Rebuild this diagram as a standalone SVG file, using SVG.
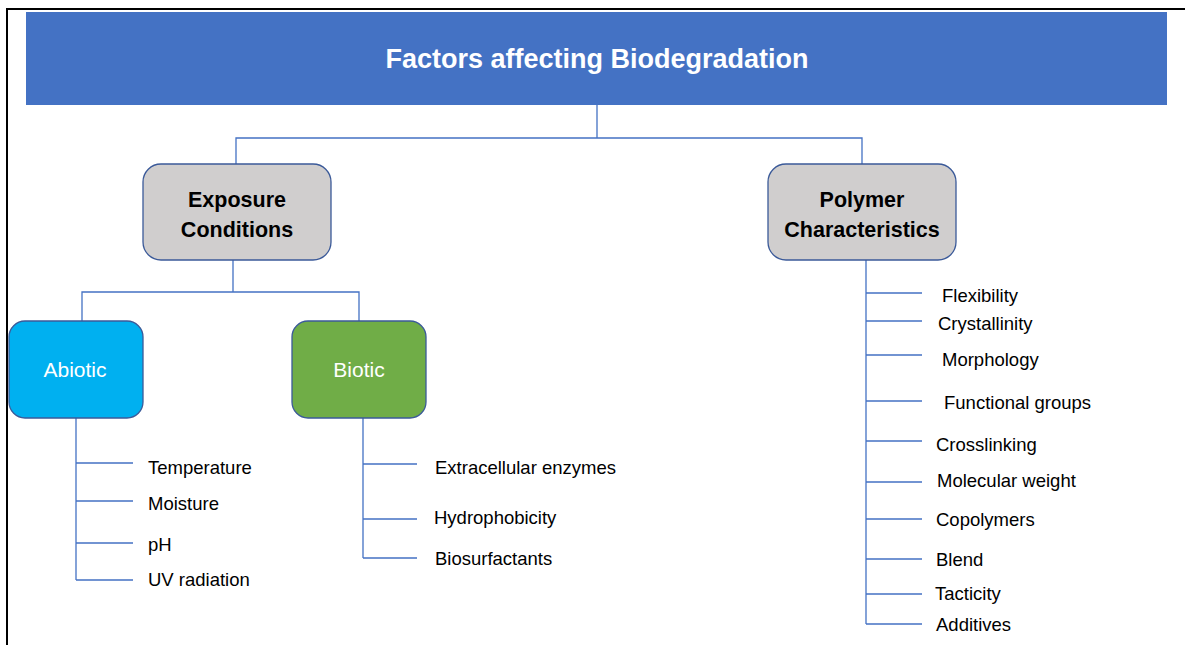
<svg xmlns="http://www.w3.org/2000/svg" width="1185" height="645" viewBox="0 0 1185 645">
<style>
.txt{font-family:"Liberation Sans",Arial,sans-serif;font-size:18.5px;fill:#000}
.hd{font-family:"Liberation Sans",Arial,sans-serif;font-size:21.5px;font-weight:bold;fill:#000;text-anchor:middle}
.wt{font-family:"Liberation Sans",Arial,sans-serif;font-size:21px;fill:#fff;text-anchor:middle}
.gray{fill:#D0CECE;stroke:#3B5A99;stroke-width:1.3}
.ln{stroke:#4472C4;stroke-width:1.3;fill:none}
</style>
<rect width="1185" height="645" fill="#fff"/>
<path d="M7,645 V9 H1185" fill="none" stroke="#000" stroke-width="2"/>
<g id="title">
<rect x="26" y="12" width="1141" height="93" fill="#4472C4"/>
<text x="597" y="68" style="font-family:'Liberation Sans',Arial,sans-serif;font-size:27px;font-weight:bold;fill:#fff;text-anchor:middle">Factors affecting Biodegradation</text>
</g>
<g id="connectors" class="ln">
<path d="M597,105 V138 M236,164 V138 H862 V164"/>
<path d="M233,260 V292 M82,321 V292 H359 V321"/>
<path d="M76,418 V580 M76,463 H133 M76,501 H133 M76,543 H133 M76,580 H133"/>
<path d="M363,418 V558 M363,464 H417 M363,519 H417 M363,558 H417"/>
<path d="M866,260 V624 M866,293 H922 M866,321 H922 M866,355 H922 M866,401 H922 M866,441 H922 M866,482 H922 M866,519 H922 M866,559 H922 M866,594 H922 M866,624 H922"/>
</g>
<g id="exposure">
<rect class="gray" x="143" y="164" width="188" height="96" rx="18"/>
<text class="hd" x="237" y="207">Exposure</text>
<text class="hd" x="237" y="237">Conditions</text>
</g>
<g id="polymer">
<rect class="gray" x="768" y="164" width="188" height="96" rx="18"/>
<text class="hd" x="862" y="207">Polymer</text>
<text class="hd" x="862" y="237">Characteristics</text>
</g>
<g id="abiotic">
<rect x="9" y="321" width="134" height="97" rx="16" fill="#00B0F0" stroke="#3B5A99" stroke-width="1.3"/>
<text class="wt" x="75" y="377">Abiotic</text>
</g>
<g id="biotic">
<rect x="292" y="321" width="134" height="97" rx="16" fill="#70AD47" stroke="#3B5A99" stroke-width="1.3"/>
<text class="wt" x="359" y="377">Biotic</text>
</g>
<g id="abiotic-items">
<text class="txt" x="148" y="474">Temperature</text>
<text class="txt" x="148" y="510">Moisture</text>
<text class="txt" x="148" y="551">pH</text>
<text class="txt" x="148" y="586">UV radiation</text>
</g>
<g id="biotic-items">
<text class="txt" x="435" y="474">Extracellular enzymes</text>
<text class="txt" x="434" y="524">Hydrophobicity</text>
<text class="txt" x="435" y="565">Biosurfactants</text>
</g>
<g id="polymer-items">
<text class="txt" x="942" y="302">Flexibility</text>
<text class="txt" x="938" y="330">Crystallinity</text>
<text class="txt" x="942" y="366">Morphology</text>
<text class="txt" x="944" y="409">Functional groups</text>
<text class="txt" x="936" y="451">Crosslinking</text>
<text class="txt" x="937" y="487">Molecular weight</text>
<text class="txt" x="936" y="526">Copolymers</text>
<text class="txt" x="936" y="566">Blend</text>
<text class="txt" x="935" y="600">Tacticity</text>
<text class="txt" x="936" y="631">Additives</text>
</g>
</svg>
